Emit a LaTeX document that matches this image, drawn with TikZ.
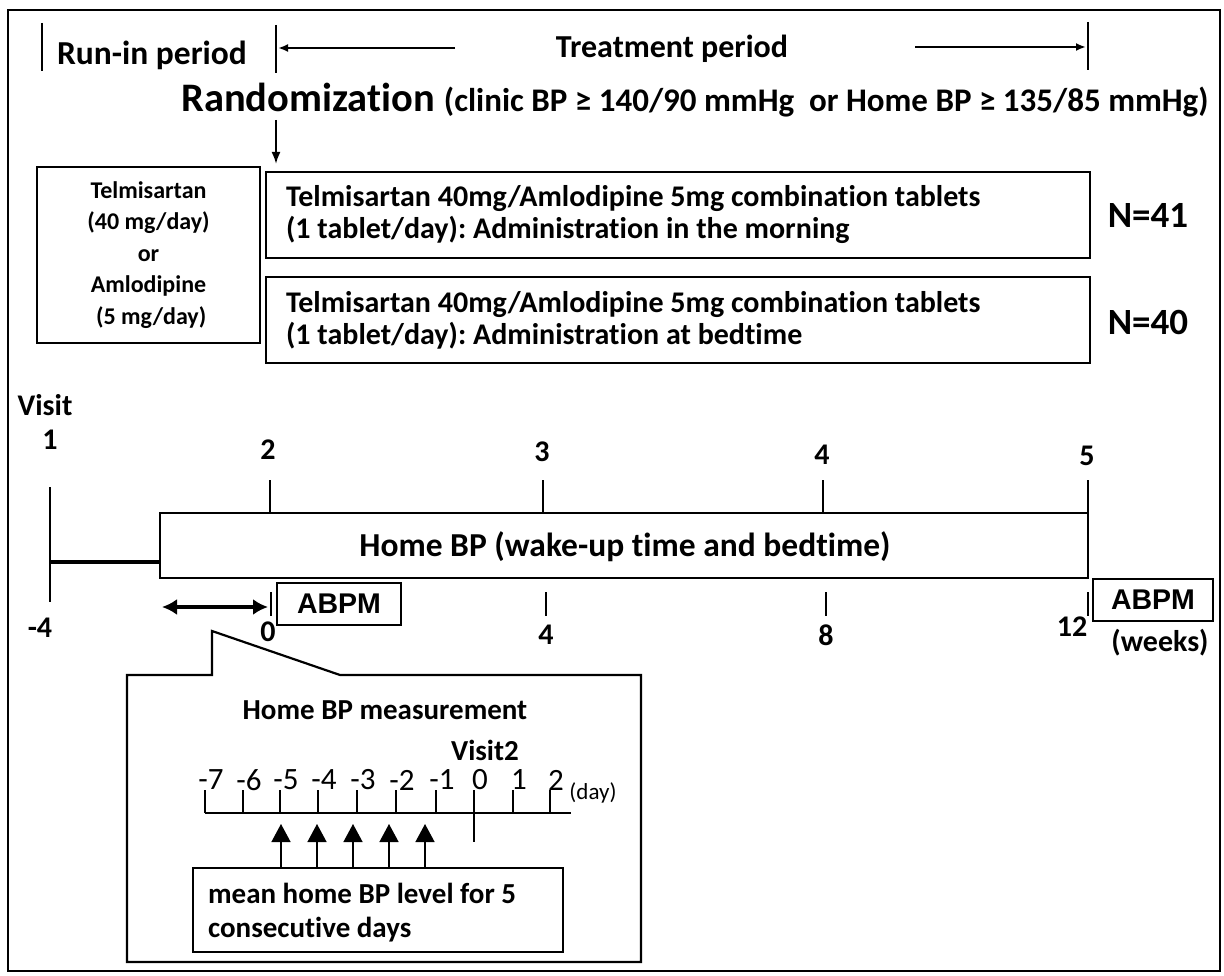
\documentclass[tikz,border=0pt]{standalone}
\usepackage{fontspec}
\setmainfont{Carlito}[Ligatures=NoCommon]
\newfontfamily\arialfont{Liberation Sans}
\usetikzlibrary{arrows.meta}
\begin{document}
\frenchspacing
\begin{tikzpicture}[x=1pt,y=-1pt,
  box/.style={draw, line width=2.2pt, inner sep=0pt},
  tickln/.style={line width=2.8pt},
  lbl/.style={inner sep=0pt, font=\bfseries},
  fs/.style={font=\bfseries\fontsize{#1}{#1}\selectfont}]
\useasboundingbox (0,0) rectangle (1224,976);
\draw[line width=2pt] (8,10) rectangle (1220,971);
% top row
\coordinate (r1a) at (42,23); \coordinate (r1b) at (42,71);
\coordinate (r2a) at (276,25); \coordinate (r2b) at (276,73);
\coordinate (r3a) at (1088,22); \coordinate (r3b) at (1088,70);
\draw[tickln] (r1a) -- (r1b);
\draw[tickln] (r2a) -- (r2b);
\draw[tickln] (r3a) -- (r3b);
\node[lbl, fs=33.5] (runin) at (152,55) {Run-in period};
\node[lbl, fs=32] (treat) at (672,49) {Treatment period};
\coordinate (la) at (455,48); \coordinate (lb) at (278,48);
\coordinate (ra) at (915,47); \coordinate (rb) at (1086,47);
\draw[line width=2pt, -{Latex[length=10pt,width=8pt]}] (la) -- (lb);
\draw[line width=2pt, -{Latex[length=10pt,width=8pt]}] (ra) -- (rb);
% randomization
\node[lbl, anchor=west] (rand) at (181,100) {\fontsize{40.5}{40}\selectfont Randomization \fontsize{33}{33}\selectfont(clinic BP ≥ 140/90 mmHg\ \ or Home BP ≥ 135/85 mmHg)};
\coordinate (da) at (276,120); \coordinate (db) at (276,164);
\draw[line width=2pt, -{Latex[length=12pt,width=9pt]}] (da) -- (db);
% left box
\node[box, minimum width=223, minimum height=176, align=center, font=\bfseries\fontsize{24}{31.5}\selectfont] (run) at (148.5,255)
  {Telmisartan\\(40 mg/day)\\or\\Amlodipine\\\ (5 mg/day)};
% arm boxes
\node[box, minimum width=824, minimum height=86] (arm1) at (678,215) {};
\node[lbl, anchor=west, align=left, font=\bfseries\fontsize{30}{32}\selectfont] (arm1t) at ([xshift=21pt]arm1.west)
  {Telmisartan 40mg/Amlodipine 5mg combination tablets\\(1 tablet/day): Administration in the morning};
\node[box, minimum width=824, minimum height=86] (arm2) at (678,320) {};
\node[lbl, anchor=west, align=left, font=\bfseries\fontsize{30}{32}\selectfont] (arm2t) at ([xshift=21pt]arm2.west)
  {Telmisartan 40mg/Amlodipine 5mg combination tablets\\(1 tablet/day): Administration at bedtime};
\node[lbl, fs=37] (n1) at (1148,215) {N=41};
\node[lbl, fs=37] (n2) at (1148,322) {N=40};
% timeline
\node[lbl, fs=30] (visit) at (45,405) {Visit};
\node[lbl, fs=30] (v1) at (50,440) {1};
\node[lbl, fs=30] (v2) at (268,450) {2};
\node[lbl, fs=30] (v3) at (542,452) {3};
\node[lbl, fs=30] (v4) at (822,455) {4};
\node[lbl, fs=30] (v5) at (1087,456) {5};
\node[box, minimum width=928, minimum height=65] (home) at (624,545.5) {};
\node[lbl, fs=33.5] (hometxt) at (625,547) {Home BP (wake-up time and bedtime)};
\coordinate (v1a) at (50,487); \coordinate (v1b) at (50,602); \coordinate (v1m) at (50,562);
\draw[tickln] (v1a) -- (v1b);
\draw[line width=4pt] (v1m) -- (home.west |- v1m);
\foreach \x/\n in {270/a,543/b,823/c,1088/d}{
  \coordinate (tu\n) at (\x,480);
  \draw[tickln] (tu\n) -- (tu\n |- home.north);
}
\foreach \x/\n in {271/a,546/b,826/c,1088/d}{
  \coordinate (tl\n) at (\x,592);
  \draw[tickln] (tl\n) -- ++(0,24);
}
\node[lbl, fs=30] (w0) at (40,628) {-4};
\node[lbl, fs=30] (w1) at (268,632) {0};
\node[lbl, fs=30] (w2) at (546,635) {4};
\node[lbl, fs=30] (w3) at (826,635) {8};
\node[lbl, fs=30] (w4) at (1072,627) {12};
\node[lbl, fs=30] (weeks) at (1160,643) {(weeks)};
\node[box, minimum width=124, minimum height=42, font=\arialfont\bfseries\fontsize{28.5}{28}\selectfont] (abpm1) at (339,604) {ABPM};
\node[box, minimum width=120, minimum height=42, font=\arialfont\bfseries\fontsize{28.5}{28}\selectfont] (abpm2) at (1153,600) {ABPM};
\coordinate (dbl1) at (162,607); \coordinate (dbl2) at (268,607);
\draw[line width=3.5pt, {Latex[length=15pt,width=16pt]}-{Latex[length=15pt,width=16pt]}] (dbl1) -- (dbl2);
% callout
\draw[line width=2.2pt, fill=white] (212,675) -- (212,631) -- (340,675) -- (641,675) -- (641,962) -- (127,962) -- (127,675) -- cycle;
\node[lbl, fs=29] (hbm) at (385,710) {Home BP measurement};
\node[lbl, fs=29] (vis2) at (485,750) {Visit2};
\coordinate (axl) at (205,813); \coordinate (axr) at (571,813);
\draw[line width=2.6pt] (axl) -- (axr);
\foreach \x/\d in {205/-7,243/-6,280/-5,318/-4,357/-3,396/-2,436/-1,474/0,513/1,550/2}{
  \coordinate (dt\d) at (\x,813);
  \draw[line width=2.6pt] (dt\d) -- ++(0,-23);
  \node[inner sep=0pt, font=\fontsize{31}{31}\selectfont] (dl\d) at (\x+6,780) {\d};
}
\draw[line width=2.6pt] (dt0) -- ++(0,29);
\node[inner sep=0pt, font=\fontsize{23}{23}\selectfont] (day) at (593,793) {(day)};
\node[box, minimum width=370, minimum height=84] (mean) at (378,910) {};
\node[lbl, anchor=west, align=left, font=\bfseries\fontsize{29}{34}\selectfont] (meant) at ([xshift=16pt, yshift=-3pt]mean.west)
  {mean home BP level for 5\\consecutive days};
\foreach \x in {281,317,353,389,425}{
  \coordinate (at\x) at (\x, 824);
  \draw[line width=1.4pt, -{Triangle[length=18pt,width=19pt]}] (at\x |- mean.north) -- (at\x);
}
\end{tikzpicture}
\end{document}
